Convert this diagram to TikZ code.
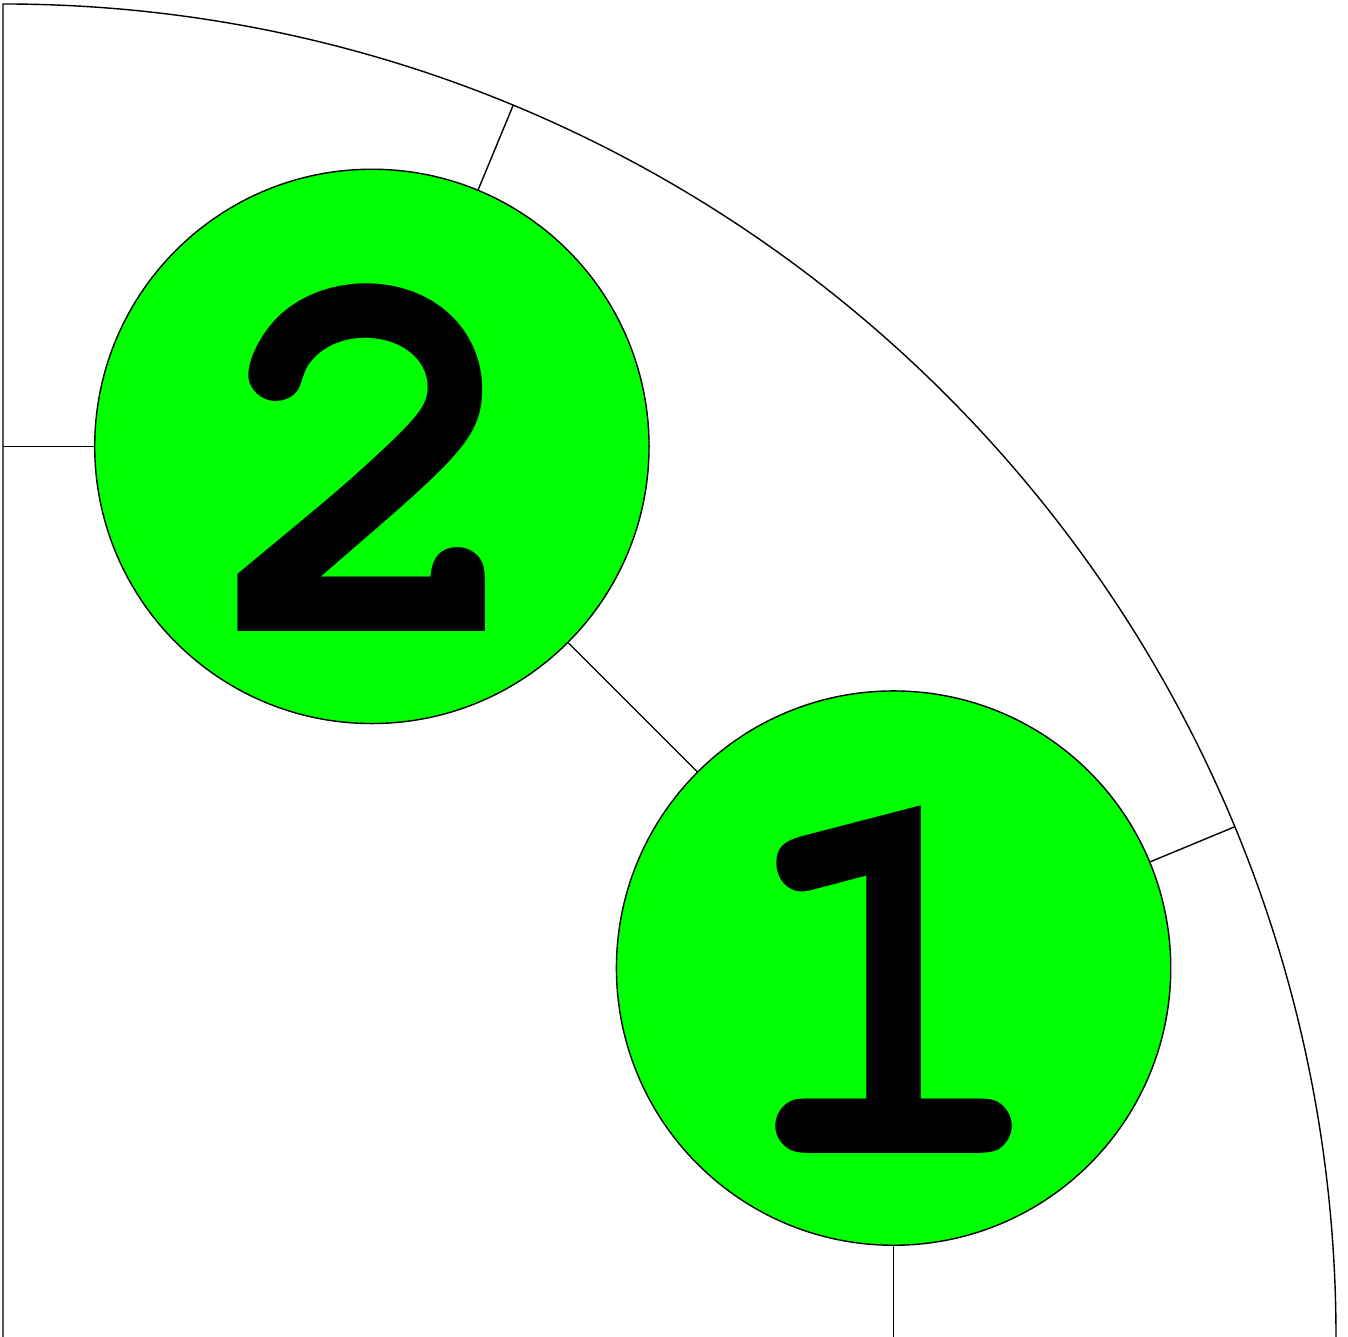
\documentclass[tikz,border=0pt]{standalone}
\usepackage[T1]{fontenc}
\usepackage{tikz}
\usetikzlibrary{calc}

\begin{document}
\begin{tikzpicture}[x=0.01cm,y=0.01cm,line width=0.4pt,
		slot/.style={circle,draw,fill={rgb,255:red,0;green,255;blue,0},minimum size=5.54cm,inner sep=0pt,
			text height=3.70cm,text depth=0pt,
			font=\usefont{T1}{pcr}{b}{n}\fontsize{155}{155}\selectfont}]
			\def\R{1333}
			\def\d{964}
			\useasboundingbox (-3,0) rectangle (1345,1337);
			
			\draw (0,0) -- (0,\R) arc[start angle=90,end angle=0,radius=\R];
			
			\node[slot] (c2) at (67.5:\d) {2};
			\node[slot] (c1) at (22.5:\d) {1};
			
			\coordinate (a2) at (67.5:\R);
			\coordinate (a1) at (22.5:\R);
			\coordinate (e2) at (0,{\d*sin(67.5)});
			\coordinate (e1) at ({\d*cos(22.5)},0);
			
			\draw (e2) -- (c2);
			\draw (a2) -- (c2);
			\draw (c2) -- (c1);
			\draw (a1) -- (c1);
			\draw (e1) -- (c1);

		\end{tikzpicture}
\end{document}
